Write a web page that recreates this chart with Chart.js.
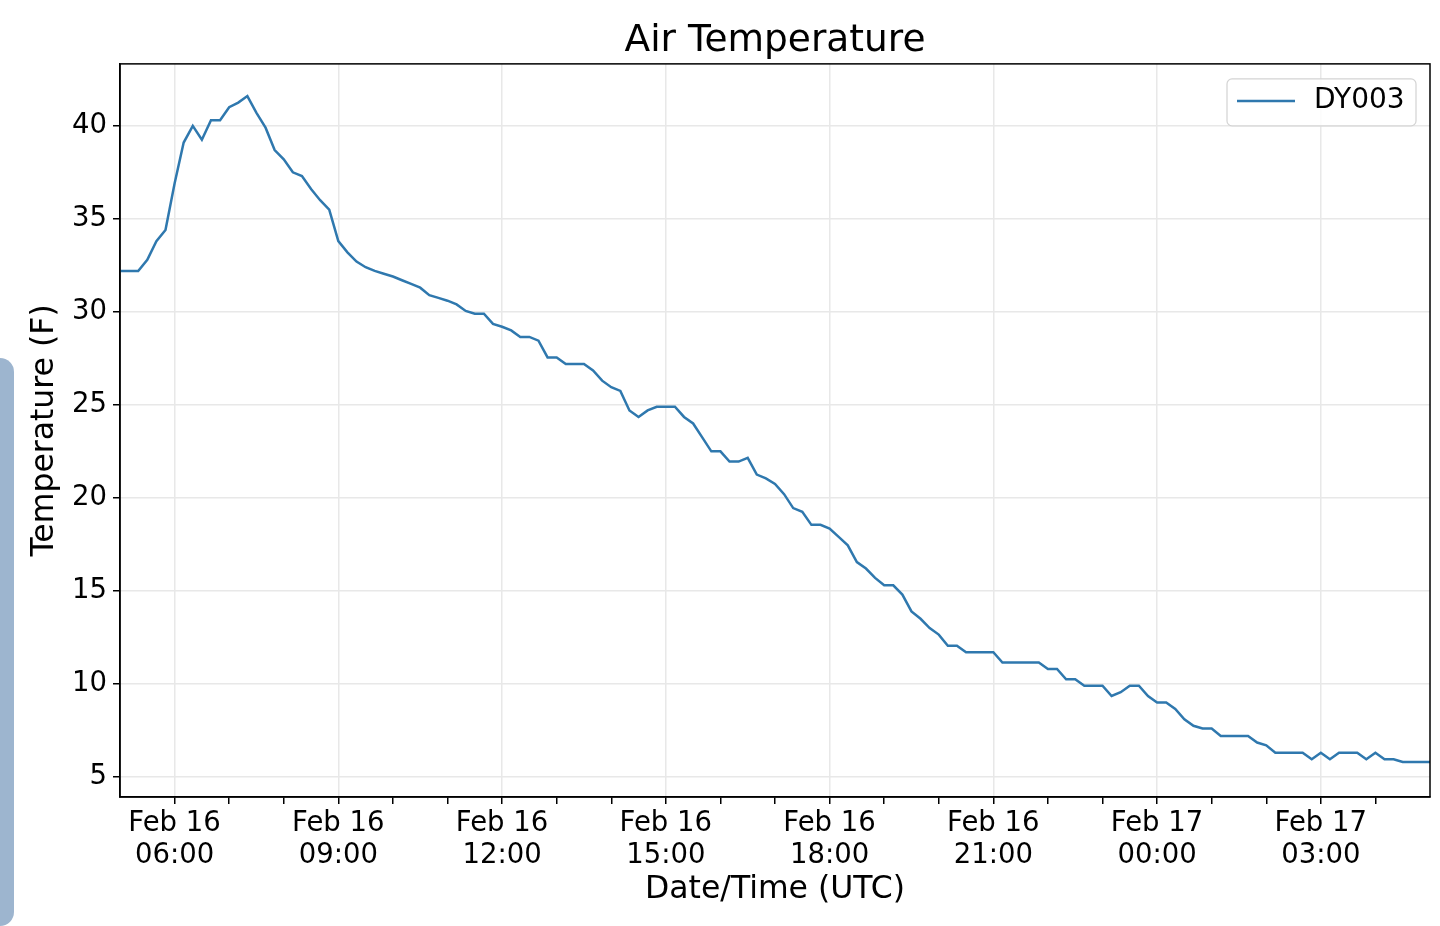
<!DOCTYPE html>
<html>
<head>
<meta charset="utf-8">
<script src="https://cdn.jsdelivr.net/npm/chart.js@4.4.1/dist/chart.umd.min.js"></script>
<style>
  html, body { margin: 0; padding: 0; background: #fff; }
  #wrap { position: relative; width: 1440px; height: 926px; }
  #tab { position: absolute; left: 0; top: 358px; width: 14px; height: 568px;
         background: #9db5cf; border-radius: 0 16px 16px 0; }
</style>
</head>
<body>
<div id="wrap">
  <canvas id="chart" width="1440" height="926"></canvas>
  <div id="tab"></div>
</div>
<script>
// 10-minute readings, Feb 16 05:00 UTC -> Feb 17 05:00 UTC
const startHour = 5;          // hours since Feb 16 00:00
const stepMinutes = 10;
const seriesName = 'DY003';
const airTemp = [
  32.2, 32.2, 32.2, 32.8, 33.8, 34.4, 36.9, 39.1, 40.0, 39.25,
  40.3, 40.3, 41.0, 41.25, 41.6, 40.7, 39.9, 38.7, 38.2, 37.5,
  37.3, 36.6, 36.0, 35.5, 33.8, 33.2, 32.7, 32.4, 32.2, 32.05,
  31.9, 31.7, 31.5, 31.3, 30.9, 30.75, 30.6, 30.4, 30.05, 29.9,
  29.9, 29.35, 29.2, 29.0, 28.65, 28.65, 28.45, 27.55, 27.55, 27.2,
  27.2, 27.2, 26.85, 26.3, 25.95, 25.75, 24.7, 24.35, 24.7, 24.9,
  24.9, 24.9, 24.35, 24.0, 23.25, 22.5, 22.5, 21.95, 21.95, 22.15,
  21.25, 21.05, 20.75, 20.2, 19.45, 19.25, 18.55, 18.55, 18.35, 17.9,
  17.45, 16.55, 16.2, 15.7, 15.3, 15.3, 14.8, 13.9, 13.5, 13.0,
  12.65, 12.05, 12.05, 11.7, 11.7, 11.7, 11.7, 11.15, 11.15, 11.15,
  11.15, 11.15, 10.8, 10.8, 10.25, 10.25, 9.9, 9.9, 9.9, 9.35,
  9.55, 9.9, 9.9, 9.35, 9.0, 9.0, 8.65, 8.1, 7.75, 7.6,
  7.6, 7.2, 7.2, 7.2, 7.2, 6.85, 6.7, 6.3, 6.3, 6.3,
  6.3, 5.95, 6.3, 5.95, 6.3, 6.3, 6.3, 5.95, 6.3, 5.95,
  5.95, 5.8, 5.8, 5.8, 5.8
];
const yTicks = [5, 10, 15, 20, 25, 30, 35, 40];
const minorHours = [6, 7, 8, 9, 10, 11, 12, 13, 14, 15, 16, 17, 18, 19, 20, 21, 22, 23, 24, 25, 26, 27, 28];
const majorHours = [6, 9, 12, 15, 18, 21, 24, 27];
const majorLabels = [
  ['Feb 16', '06:00'], ['Feb 16', '09:00'], ['Feb 16', '12:00'], ['Feb 16', '15:00'],
  ['Feb 16', '18:00'], ['Feb 16', '21:00'], ['Feb 17', '00:00'], ['Feb 17', '03:00']
];

const points = airTemp.map((v, i) => ({ x: startHour + i * stepMinutes / 60, y: v }));

const FONT = "'DejaVu Sans', sans-serif";
const lineColor = '#2f78ae';
const gridColor = '#e8e8e8';

// full box around the plot, like matplotlib spines
const framePlugin = {
  id: 'frame',
  afterDatasetsDraw(chart) {
    const { ctx, chartArea: a } = chart;
    ctx.save();
    ctx.strokeStyle = '#000';
    ctx.lineWidth = 1.5;
    ctx.strokeRect(a.left, a.top, a.right - a.left, a.bottom - a.top);
    ctx.restore();
  }
};

// legend box in the upper right corner
const legendBox = {
  id: 'legendBox',
  afterDraw(chart) {
    const { ctx, chartArea: a } = chart;
    const ds = chart.data.datasets[0];
    const w = 189, h = 47;
    const x = a.right - 14 - w, y = a.top + 15;
    ctx.save();
    ctx.fillStyle = 'rgba(255,255,255,0.85)';
    ctx.strokeStyle = '#d3d3d3';
    ctx.lineWidth = 1.2;
    ctx.beginPath();
    ctx.roundRect(x, y, w, h, 5);
    ctx.fill();
    ctx.stroke();
    ctx.strokeStyle = ds.borderColor;
    ctx.lineWidth = 2.5;
    ctx.beginPath();
    ctx.moveTo(x + 10, y + 22);
    ctx.lineTo(x + 68, y + 22);
    ctx.stroke();
    ctx.fillStyle = '#000';
    ctx.font = '28px ' + FONT;
    ctx.textBaseline = 'middle';
    ctx.fillText(ds.label, x + 87, y + 22);
    ctx.restore();
  }
};

new Chart(document.getElementById('chart'), {
  type: 'line',
  data: {
    datasets: [{
      label: seriesName,
      data: points,
      borderColor: lineColor,
      borderWidth: 2.5,
      pointRadius: 0,
      tension: 0,
      fill: false
    }]
  },
  options: {
    responsive: false,
    animation: false,
    devicePixelRatio: 1,
    layout: { padding: { left: 0, right: 10, top: 0, bottom: 0 } },
    plugins: {
      legend: { display: false },
      tooltip: { enabled: false },
      title: {
        display: true,
        fullSize: false,
        text: 'Air Temperature',
        color: '#000',
        font: { family: FONT, size: 37.5, weight: 'normal', lineHeight: 1.17 },
        padding: { top: 19, bottom: 1 }
      }
    },
    scales: {
      x: {
        type: 'linear',
        min: startHour,
        max: startHour + 24,
        afterBuildTicks: s => { s.ticks = minorHours.map(v => ({ value: v })); },
        afterFit: s => { s.height = 129; },
        grid: {
          color: c => (c.tick && majorHours.includes(c.tick.value)) ? gridColor : 'rgba(0,0,0,0)',
          tickColor: '#000',
          lineWidth: 1.5,
          tickLength: 7
        },
        border: { display: true, color: '#000', width: 1.5 },
        ticks: {
          autoSkip: false,
          maxRotation: 0,
          color: '#000',
          padding: 4,
          font: { family: FONT, size: 27.5, lineHeight: 1.16 },
          callback: v => {
            const k = majorHours.indexOf(v);
            return k >= 0 ? majorLabels[k] : '';
          }
        },
        title: {
          display: true,
          text: 'Date/Time (UTC)',
          color: '#000',
          font: { family: FONT, size: 31.5, lineHeight: 1.2 },
          padding: { top: 0, bottom: 17 }
        }
      },
      y: {
        min: 3.92,
        max: 43.33,
        afterBuildTicks: s => { s.ticks = yTicks.map(v => ({ value: v })); },
        afterFit: s => { s.width = 120; },
        grid: {
          color: gridColor,
          tickColor: '#000',
          lineWidth: 1.5,
          tickLength: 7
        },
        border: { display: true, color: '#000', width: 1.5 },
        ticks: {
          color: '#000',
          padding: 6,
          font: { family: FONT, size: 27.5 }
        },
        title: {
          display: true,
          text: 'Temperature (F)',
          color: '#000',
          font: { family: FONT, size: 31.5, lineHeight: 1.2 },
          padding: { top: 26, bottom: 0 }
        }
      }
    }
  },
  plugins: [framePlugin, legendBox]
});
</script>
</body>
</html>
